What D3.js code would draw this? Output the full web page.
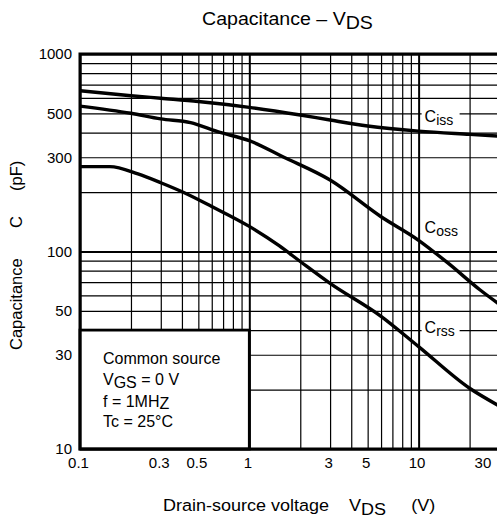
<!DOCTYPE html>
<html>
<head>
<meta charset="utf-8">
<script src="https://cdn.jsdelivr.net/npm/d3@7"></script>
<style>
  body { margin: 0; background: #fff; }
  svg { display: block; font-family: "Liberation Sans", Arial, sans-serif; }
  text { white-space: pre; }
</style>
</head>
<body>
<div id="chart"></div>
<script>
// curves (VDS in V, C in pF)
const cissVds = [0.1, 0.2, 0.3, 0.5, 1, 2, 3, 5, 10, 20, 30];
const cissPf  = [652, 615, 597, 575, 537, 491, 463, 432, 407, 392, 384];
const cossVds = [0.1, 0.2, 0.3, 0.45, 0.65, 1, 1.6, 3, 6, 10, 15, 23, 30];
const cossPf  = [545, 501, 469, 449, 404, 364, 300, 230, 150, 114, 87, 64, 54];
const crssVds = [0.1, 0.15, 0.22, 0.3, 0.41, 0.6, 1, 1.5, 2, 3, 6, 10, 20, 30];
const crssPf  = [269, 269, 247, 223, 199, 169, 134, 107, 89, 69, 47, 33, 20.3, 16.5];

const xTickLabels = [0.1, 0.3, 0.5, 1, 3, 5, 10, 30];
const yTickLabels = [10, 30, 50, 100, 300, 500, 1000];

var W = 497, H = 522;
var margin = {top: 54, left: 80};
var width = 419.4, height = 395;

var svg = d3.select("#chart").append("svg")
    .attr("width", W).attr("height", H);

var x = d3.scaleLog().domain([0.1, 30]).range([0, width]);
var y = d3.scaleLog().domain([10, 1000]).range([height, 0]);

var g = svg.append("g")
    .attr("transform", "translate(" + margin.left + "," + margin.top + ")");

function isDecade(v) {
  var l = Math.log10(v);
  return Math.abs(l - Math.round(l)) < 1e-6;
}

// grid
g.append("g")
    .attr("transform", "translate(0," + height + ")")
    .call(d3.axisBottom(x).tickValues(x.ticks()).tickSize(-height).tickFormat(""))
    .call(a => a.select(".domain").remove())
    .selectAll("line")
    .attr("stroke", "#000")
    .attr("stroke-width", d => isDecade(d) ? 2 : 1.2);

g.append("g")
    .call(d3.axisLeft(y).tickValues(y.ticks()).tickSize(-width).tickFormat(""))
    .call(a => a.select(".domain").remove())
    .selectAll("line")
    .attr("stroke", "#000")
    .attr("stroke-width", d => isDecade(d) ? 2 : 1.2);

// conditions box (covers the grid at lower left)
g.append("rect")
    .attr("x", x(0.1)).attr("y", y(40))
    .attr("width", x(1) - x(0.1)).attr("height", y(10) - y(40))
    .attr("fill", "#fff").attr("stroke", "#000").attr("stroke-width", 2.8);

// label backgrounds
var labels = [
  {sub: "iss", c: 470},
  {sub: "oss", c: 128},
  {sub: "rss", c: 40}
];
g.selectAll(".lblbg").data(labels).enter().append("rect")
    .attr("x", x(10) + 3).attr("y", d => y(d.c) - 12)
    .attr("width", 38).attr("height", 19)
    .attr("fill", "#fff");

// curves
var line = d3.line()
    .x(d => x(d[0])).y(d => y(d[1]))
    .curve(d3.curveMonotoneX);

[[cissVds, cissPf], [cossVds, cossPf], [crssVds, crssPf]].forEach(function(s) {
  g.append("path")
      .datum(d3.zip(s[0], s[1]))
      .attr("fill", "none")
      .attr("stroke", "#000")
      .attr("stroke-width", 3.4)
      .attr("d", line);
});

var lt = g.selectAll(".lbl").data(labels).enter().append("text")
    .attr("x", x(10) + 6).attr("y", d => y(d.c) + 3)
    .attr("font-size", 16);
lt.append("tspan").text("C");
lt.append("tspan").attr("dy", 3).attr("font-size", 14).text(d => d.sub);

// frame
g.append("rect")
    .attr("width", width).attr("height", height)
    .attr("fill", "none").attr("stroke", "#000").attr("stroke-width", 3);

// tick labels
g.append("g")
    .attr("transform", "translate(0," + height + ")")
    .call(d3.axisBottom(x).tickValues(xTickLabels).tickSize(0).tickPadding(10)
        .tickFormat(d => String(d)))
    .call(a => a.select(".domain").remove())
    .selectAll("text")
    .attr("font-size", 15).attr("font-family", null).attr("fill", "#000")
    .attr("dy", "0.6em")
    .attr("dx", d => d === 30 ? -17 : -2);

g.append("g")
    .call(d3.axisLeft(y).tickValues(yTickLabels).tickSize(0).tickPadding(8)
        .tickFormat(d => String(d)))
    .call(a => a.select(".domain").remove())
    .selectAll("text")
    .attr("font-size", 15).attr("font-family", null).attr("fill", "#000");

// conditions text
var cond = g.append("g").attr("font-size", 16);
cond.append("text").attr("x", 23).attr("y", 310).text("Common source");
var t2 = cond.append("text").attr("x", 23).attr("y", 331);
t2.append("tspan").text("V");
t2.append("tspan").attr("dy", 3).text("GS");
t2.append("tspan").attr("dy", -3).text(" = 0 V");
var t3 = cond.append("text").attr("x", 23).attr("y", 353);
t3.append("tspan").text("f = 1MH");
t3.append("tspan").attr("dy", 2).text("Z");
cond.append("text").attr("x", 23).attr("y", 373).text("Tc = 25\u00b0C");

// title
var title = svg.append("text")
    .attr("transform", "translate(202,25) scale(1.12,1)")
    .attr("font-size", 17.5);
title.append("tspan").text("Capacitance \u2013 V");
title.append("tspan").attr("dy", 3.5).text("DS");

// x axis title
var xt = svg.append("text")
    .attr("transform", "translate(163,511) scale(1.06,1)")
    .attr("font-size", 17);
xt.append("tspan").text("Drain-source voltage    V");
xt.append("tspan").attr("dy", 3.5).text("DS");
xt.append("tspan").attr("dy", -3.5).text("     (V)");

// y axis title
var yt = svg.append("g").attr("font-size", 16.5);
[["Capacitance", 350], ["C", 228], ["(pF)", 191]].forEach(function(p) {
  yt.append("text")
      .attr("transform", "translate(22," + p[1] + ") rotate(-90)")
      .text(p[0]);
});
</script>
</body>
</html>
